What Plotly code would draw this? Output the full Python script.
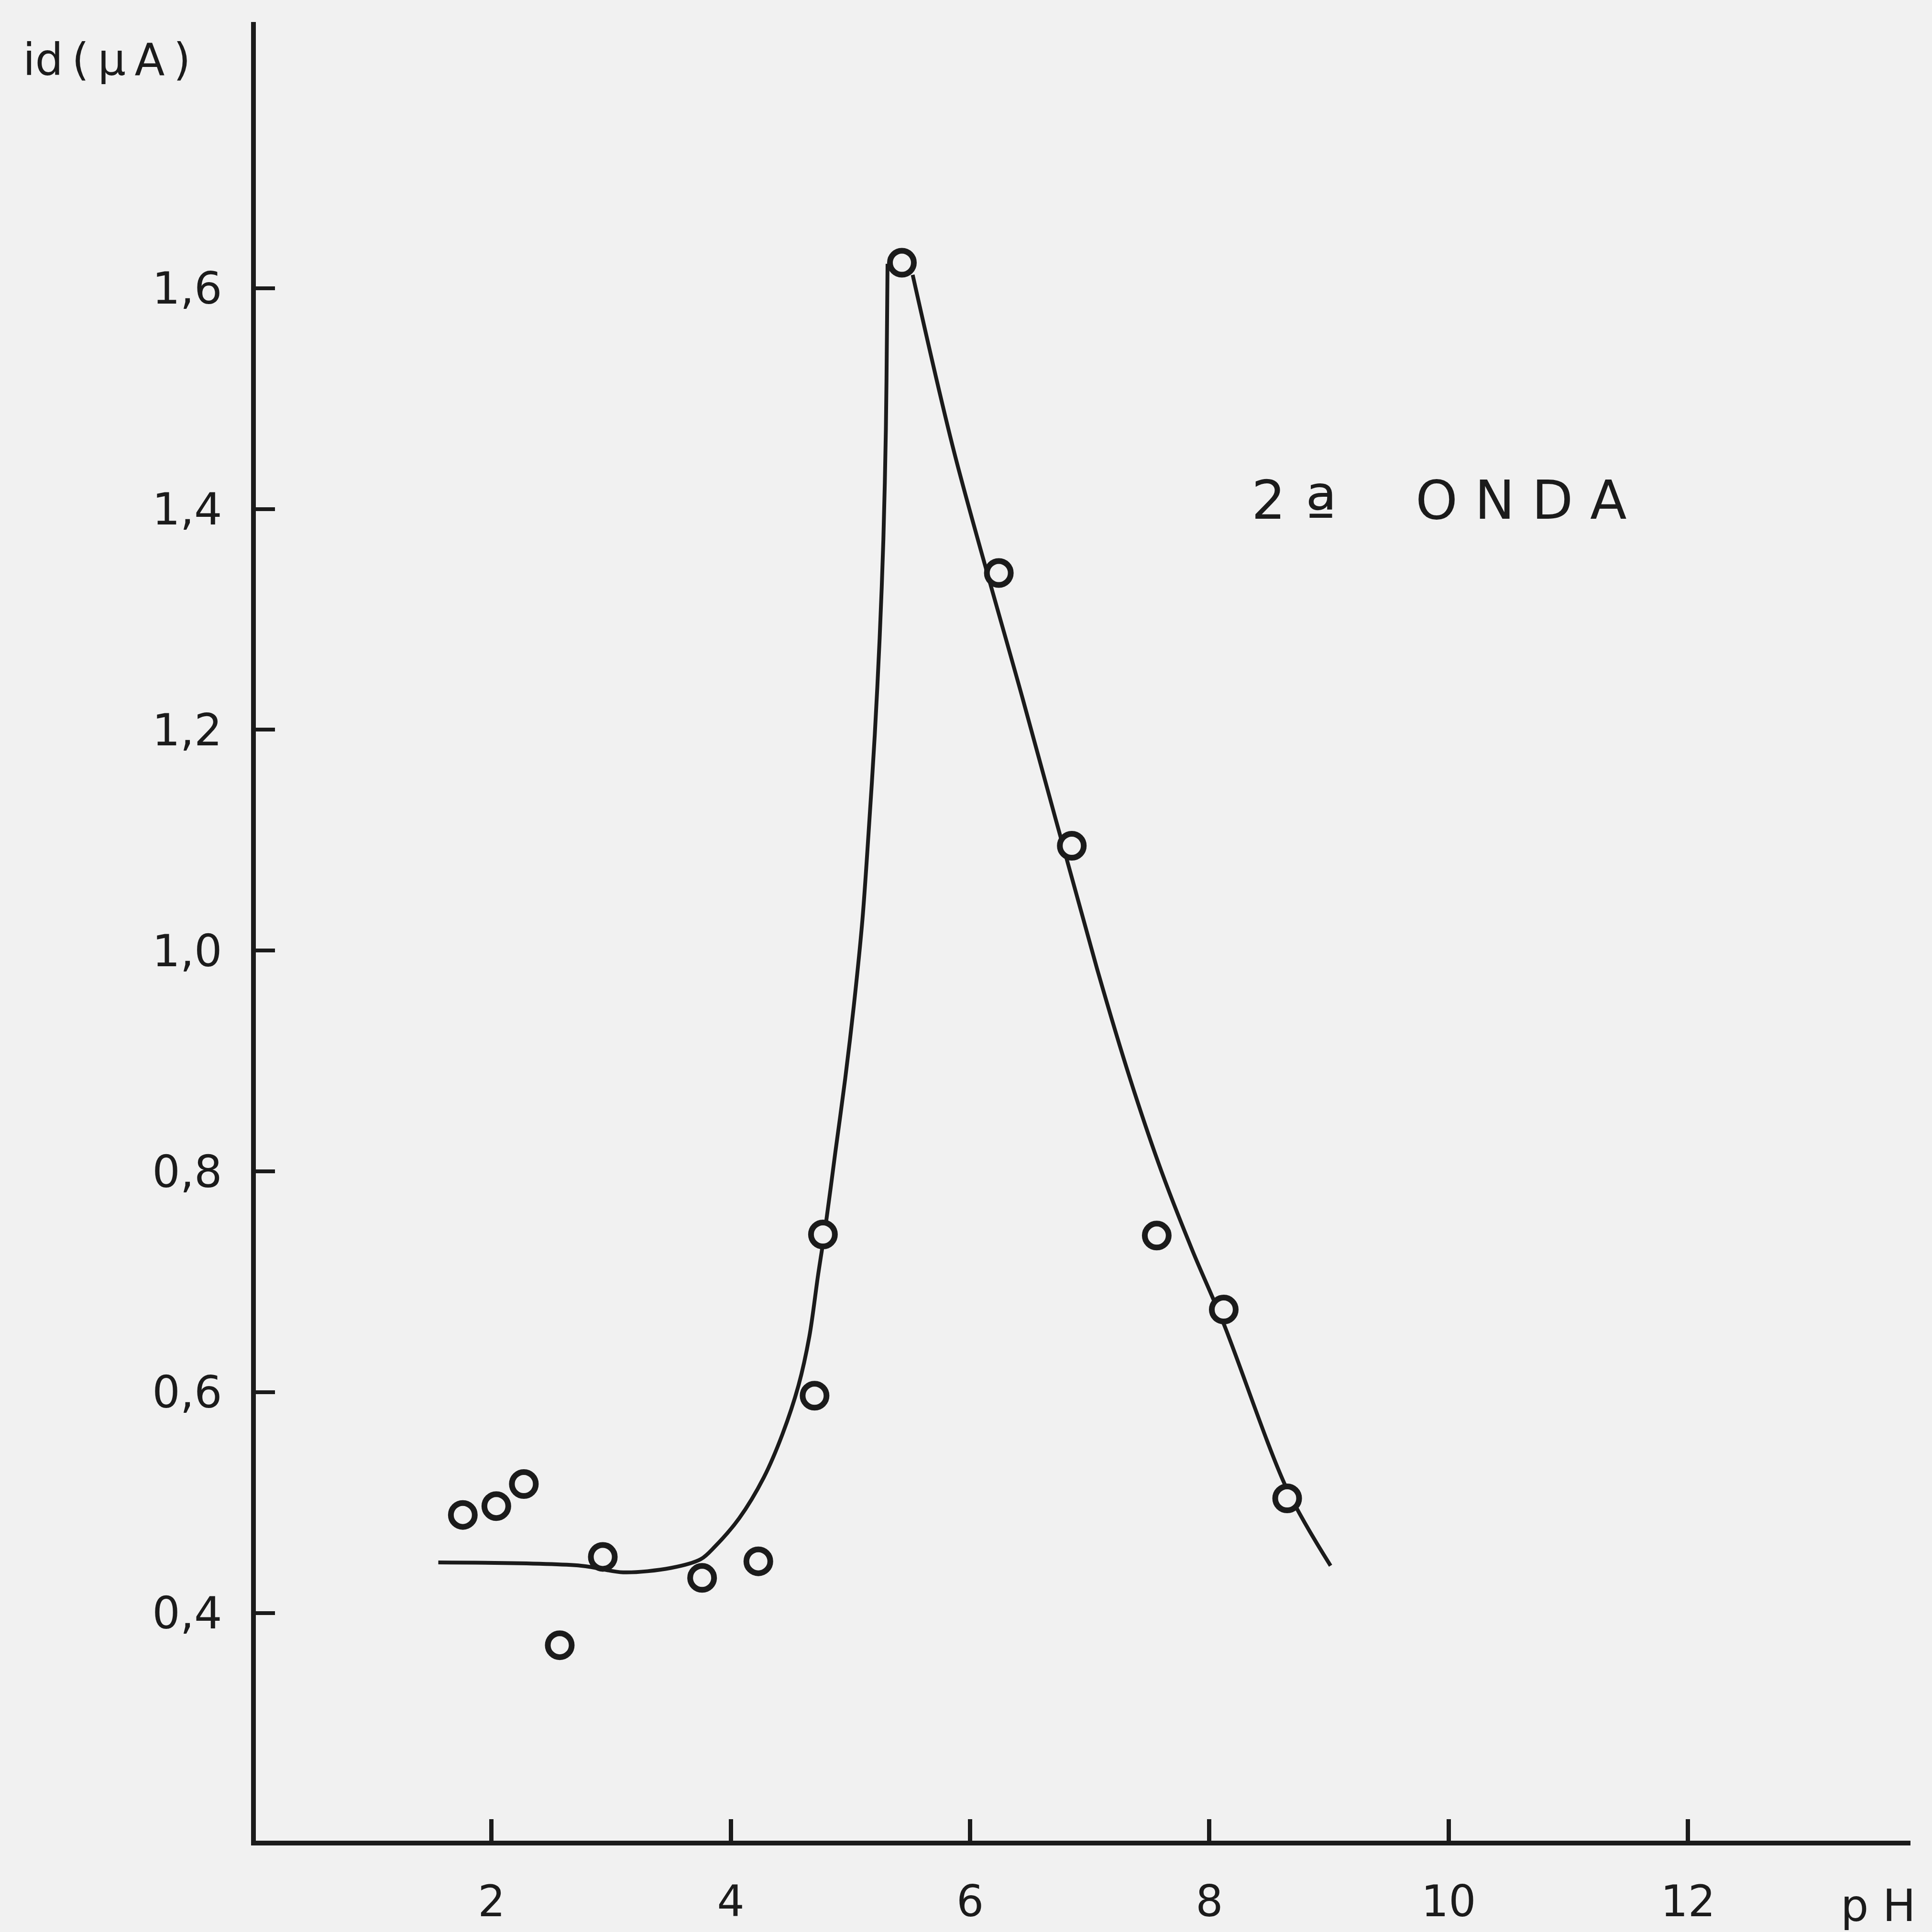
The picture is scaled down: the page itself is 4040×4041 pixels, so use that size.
import plotly.graph_objects as go

# --- data ---
ph_points = [1.76, 2.04, 2.27, 2.57, 2.93, 3.76, 4.23, 4.70, 4.77, 5.43, 6.24, 6.85, 7.56, 8.12, 8.65]
id_points = [0.489, 0.497, 0.517, 0.371, 0.451, 0.432, 0.447, 0.597, 0.743, 1.623, 1.342, 1.095, 0.742, 0.675, 0.504]

# fitted curve, rising branch (up to the maximum)
rise_ph = [1.555, 2.75, 3.10, 3.50, 3.75, 3.864, 4.070, 4.276, 4.431, 4.565, 4.657, 4.729, 4.791,
           4.873, 4.956, 5.028, 5.100, 5.151, 5.203, 5.244, 5.275, 5.296, 5.306, 5.310]
rise_id = [0.446, 0.443, 0.437, 0.441, 0.449, 0.460, 0.486, 0.523, 0.562, 0.606, 0.651, 0.706, 0.750,
           0.817, 0.884, 0.950, 1.028, 1.106, 1.195, 1.283, 1.372, 1.472, 1.572, 1.622]
# fitted curve, falling branch (after the maximum)
fall_ph = [5.52, 5.87, 6.44, 7.06, 7.34, 7.60, 7.86, 8.12, 8.65, 9.013]
fall_id = [1.612, 1.450, 1.228, 0.984, 0.883, 0.800, 0.728, 0.662, 0.512, 0.443]

x_tickvals = [2, 4, 6, 8, 10, 12]
x_ticktext = ["2", "4", "6", "8", "10", "12"]
y_tickvals = [0.4, 0.6, 0.8, 1.0, 1.2, 1.4, 1.6]
y_ticktext = ["0,4", "0,6", "0,8", "1,0", "1,2", "1,4", "1,6"]

BG = "#f1f1f1"
INK = "#1b1b1b"
FONT = "DejaVu Sans"

fig = go.Figure()
for cx, cy in ((rise_ph, rise_id), (fall_ph, fall_id)):
    fig.add_trace(go.Scatter(
        x=cx, y=cy, mode="lines",
        line=dict(color=INK, width=8, shape="spline", smoothing=0.9),
        hoverinfo="skip", showlegend=False,
    ))
fig.add_trace(go.Scatter(
    x=ph_points, y=id_points, mode="markers",
    marker=dict(symbol="circle", size=50, color=BG, line=dict(color=INK, width=12)),
    showlegend=False, cliponaxis=False,
))

fig.update_layout(
    width=4040, height=4041,
    margin=dict(l=535, r=45, t=46, b=173),
    paper_bgcolor=BG, plot_bgcolor=BG,
    font=dict(family=FONT, color=INK, size=90),
    showlegend=False,
)
fig.update_xaxes(
    range=[0.03, 13.86], showgrid=False, zeroline=False,
    showline=True, linewidth=10, linecolor=INK,
    ticks="inside", ticklen=45, tickwidth=9, tickcolor=INK,
    tickvals=x_tickvals, ticktext=x_ticktext,
    tickfont=dict(family=FONT, size=90, color=INK),
    ticklabelstandoff=40,
)
fig.update_yaxes(
    range=[0.194, 1.841], showgrid=False, zeroline=False,
    showline=True, linewidth=10, linecolor=INK,
    ticks="inside", ticklen=40, tickwidth=8, tickcolor=INK,
    tickvals=y_tickvals, ticktext=y_ticktext,
    tickfont=dict(family=FONT, size=92, color=INK),
    ticklabelstandoff=42,
)

fig.add_annotation(text="id\u2009(\u2009\u03bc\u2009A\u2009)", xref="paper", yref="paper",
                   x=-(535 - 46)/3460, y=1 - (126 - 46)/3822, xanchor="left", yanchor="middle",
                   showarrow=False, font=dict(family=FONT, size=92, color=INK))
fig.add_annotation(text="2", x=8.344, y=1.408, xanchor="left", yanchor="middle",
                   showarrow=False, font=dict(family=FONT, size=112, color=INK))
fig.add_annotation(text="\u00aa", x=8.79, y=1.399, xanchor="left", yanchor="middle",
                   showarrow=False, font=dict(family=FONT, size=140, color=INK))
fig.add_annotation(text="O N D A", x=9.713, y=1.408, xanchor="left", yanchor="middle",
                   showarrow=False, font=dict(family=FONT, size=112, color=INK))
fig.add_annotation(text="p H", xref="paper", yref="paper",
                   x=(3847 - 535)/3460, y=-(4005 - 3868)/3822, xanchor="left", yanchor="middle",
                   showarrow=False, font=dict(family=FONT, size=92, color=INK))

fig.write_html("out.html")
